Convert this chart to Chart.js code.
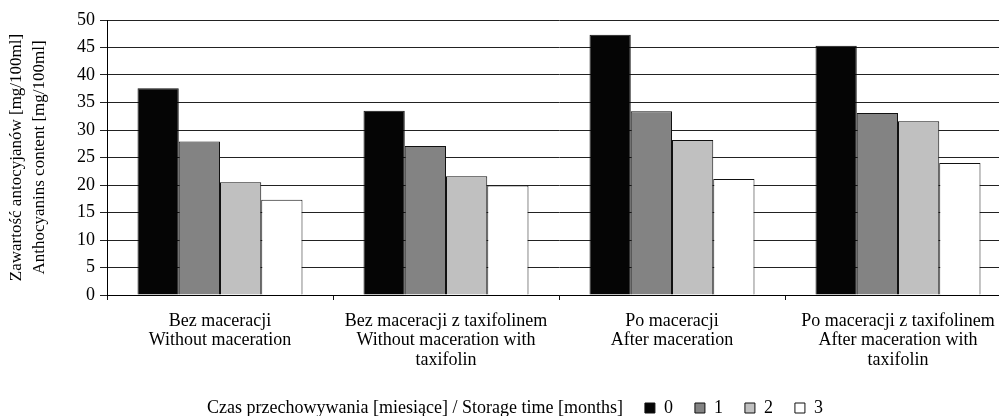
<!DOCTYPE html>
<html>
<head>
<meta charset="utf-8">
<script src="https://cdn.jsdelivr.net/npm/chart.js@4"></script>
<style>
  html, body { margin: 0; padding: 0; background: #fff; overflow: hidden; }
  #wrap { width: 1011px; height: 416px; }
</style>
</head>
<body>
<div id="wrap"><canvas id="c" width="1011" height="416"></canvas></div>
<script>
const categories = [
  ["Bez maceracji", "Without maceration"],
  ["Bez maceracji z taxifolinem", "Without maceration with", "taxifolin"],
  ["Po maceracji", "After maceration"],
  ["Po maceracji z taxifolinem", "After maceration with", "taxifolin"]
];
const month0 = [37.6, 33.5, 47.3, 45.3];
const month1 = [27.9, 27.1, 33.4, 33.1];
const month2 = [20.5, 21.6, 28.2, 31.6];
const month3 = [17.3, 19.9, 21.1, 24.0];
const seriesLabels = ["0", "1", "2", "3"];
const yTitle = ["Zawartość antocyjanów [mg/100ml]", "Anthocyanins content [mg/100ml]"];
const legendTitle = "Czas przechowywania [miesiące] / Storage time [months]";
const yMin = 0, yMax = 50, yStep = 5;

const colors = ["#050505", "#838383", "#c0c0c0", "#ffffff"];
const serif = "'Liberation Serif', 'Times New Roman', serif";

const datasets = [month0, month1, month2, month3].map((d, i) => ({
  label: seriesLabels[i],
  data: d,
  backgroundColor: colors[i],
  borderColor: "#111",
  borderWidth: 1,
  categoryPercentage: 0.73,
  barPercentage: 1.0
}));

new Chart(document.getElementById("c"), {
  type: "bar",
  data: { labels: categories, datasets },
  options: {
    responsive: false,
    devicePixelRatio: 1,
    animation: false,
    layout: { padding: { top: 20, left: 0, right: 0, bottom: 0 } },
    plugins: {
      tooltip: { enabled: false },
      legend: {
        position: "bottom",
        align: "center",
        maxHeight: 39,
        labels: {
          font: { family: serif, size: 18 },
          color: "#000",
          boxWidth: 10,
          boxHeight: 10,
          padding: 22,
          generateLabels(chart) {
            const items = Chart.defaults.plugins.legend.labels.generateLabels(chart);
            items.forEach(it => { it.lineWidth = 1; it.strokeStyle = "#111"; });
            return [{
              text: legendTitle,
              fillStyle: "rgba(0,0,0,0)",
              strokeStyle: "rgba(0,0,0,0)",
              lineWidth: 0,
              hidden: false,
              datasetIndex: -1,
              fontColor: "#000"
            }].concat(items);
          }
        }
      }
    },
    scales: {
      x: {
        afterFit(s) { s.height = 82; },
        grid: { display: true, drawOnChartArea: false, offset: true, tickLength: 5, color: "#111", lineWidth: 1 },
        border: { display: true, color: "#000", width: 1 },
        ticks: {
          color: "#000",
          padding: 11,
          maxRotation: 0,
          autoSkip: false,
          font: { family: serif, size: 18, lineHeight: 1.1 }
        }
      },
      y: {
        min: yMin,
        max: yMax,
        afterFit(s) { s.width = 107; },
        grid: { color: "#222", lineWidth: 1, tickLength: 7 },
        border: { display: true, color: "#000", width: 1 },
        ticks: {
          stepSize: yStep,
          color: "#000",
          padding: 5,
          font: { family: serif, size: 18 }
        },
        title: {
          display: true,
          text: yTitle,
          color: "#000",
          padding: { top: 5, bottom: 0 },
          font: { family: serif, size: 17, lineHeight: 1.35 }
        }
      }
    }
  }
});
</script>
</body>
</html>
